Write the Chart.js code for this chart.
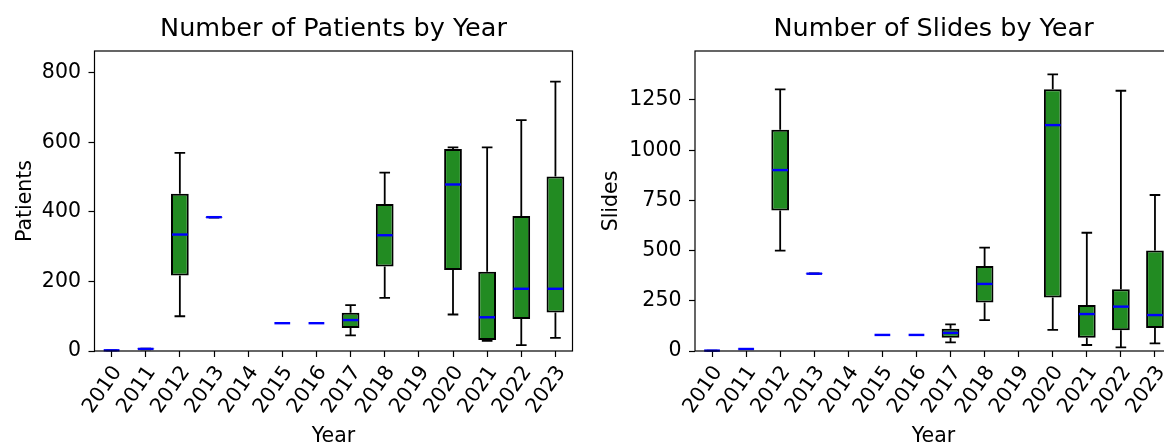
<!DOCTYPE html>
<html>
<head>
<meta charset="utf-8">
<title>Patients and Slides by Year</title>
<script src="https://cdn.jsdelivr.net/npm/chart.js@4.4.1/dist/chart.umd.min.js"></script>
<style>
  html, body { margin: 0; padding: 0; background: #fff; overflow: hidden; }
  #wrap { position: relative; width: 1164px; height: 446px; overflow: hidden; }
  #patientsChart { position: absolute; left: 0; top: 0; }
  #slidesChart { position: absolute; left: 582px; top: 0; }
</style>
</head>
<body>
<div id="wrap">
  <canvas id="patientsChart" width="582" height="446"></canvas>
  <canvas id="slidesChart" width="600" height="446"></canvas>
</div>
<script>
const years = ["2010", "2011", "2012", "2013", "2014", "2015", "2016",
               "2017", "2018", "2019", "2020", "2021", "2022", "2023"];

// five-number summaries per year (null = no data)
const patientsMin    = [2, 5, 100, 384, null, 80, 80, 45, 153, null, 105, 29, 17, 38];
const patientsQ1     = [2, 5, 217, 384, null, 80, 80, 66, 243, null, 233, 32, 92, 111];
const patientsMedian = [2, 6, 335, 385, null, 80, 80, 89, 333, null, 479, 97, 179, 179];
const patientsQ3     = [2, 7, 452, 386, null, 80, 80, 110, 423, null, 581, 228, 388, 502];
const patientsMax    = [2, 7, 570, 386, null, 80, 80, 132, 513, null, 586, 586, 664, 775];

const slidesMin    = [2, 9, 500, 384, null, 80, 80, 43, 154, null, 105, 30, 18, 38];
const slidesQ1     = [2, 9, 700, 384, null, 80, 80, 66, 242, null, 266, 66, 103, 115];
const slidesMedian = [2, 10, 901, 385, null, 80, 80, 90, 334, null, 1125, 184, 221, 179];
const slidesQ3     = [2, 11, 1102, 386, null, 80, 80, 111, 423, null, 1303, 229, 307, 501];
const slidesMax    = [2, 11, 1303, 386, null, 80, 80, 133, 515, null, 1378, 589, 1296, 777];

const patientsTicks = [0, 200, 400, 600, 800];
const slidesTicks = [0, 250, 500, 750, 1000, 1250];

Chart.defaults.font.family = "'DejaVu Sans', sans-serif";
Chart.defaults.color = "#000";

// whiskers, caps and medians drawn through the chart's own scales
const boxWhiskers = {
  id: "boxWhiskers",
  beforeDatasetsDraw(chart) {
    const ds = chart.data.datasets[0];
    const meta = chart.getDatasetMeta(0);
    const y = chart.scales.y;
    const ctx = chart.ctx;
    ctx.save();
    ctx.strokeStyle = "#000";
    ctx.lineWidth = 1.8;
    meta.data.forEach((bar, i) => {
      if (ds.whiskerMin[i] == null) return;
      const x = bar.x;
      const cap = bar.width * 0.6 / 2;
      const yMin = y.getPixelForValue(ds.whiskerMin[i]);
      const yQ1 = y.getPixelForValue(ds.data[i][0]);
      const yQ3 = y.getPixelForValue(ds.data[i][1]);
      const yMax = y.getPixelForValue(ds.whiskerMax[i]);
      ctx.beginPath();
      ctx.moveTo(x, yQ1); ctx.lineTo(x, yMin);
      ctx.moveTo(x, yQ3); ctx.lineTo(x, yMax);
      ctx.moveTo(x - cap, yMin); ctx.lineTo(x + cap, yMin);
      ctx.moveTo(x - cap, yMax); ctx.lineTo(x + cap, yMax);
      ctx.stroke();
    });
    ctx.restore();
  },
  afterDatasetsDraw(chart) {
    const ds = chart.data.datasets[0];
    const meta = chart.getDatasetMeta(0);
    const y = chart.scales.y;
    const ctx = chart.ctx;
    ctx.save();
    ctx.strokeStyle = "#0000ff";
    ctx.lineWidth = 2.4;
    meta.data.forEach((bar, i) => {
      if (ds.median[i] == null) return;
      const yMed = y.getPixelForValue(ds.median[i]);
      ctx.beginPath();
      ctx.moveTo(bar.x - bar.width / 2 + 1, yMed);
      ctx.lineTo(bar.x + bar.width / 2 - 1, yMed);
      ctx.stroke();
    });
    const a = chart.chartArea;
    ctx.strokeStyle = "#000";
    ctx.lineWidth = 1.2;
    ctx.strokeRect(a.left, a.top, a.right - a.left, a.bottom - a.top);
    ctx.restore();
  }
};

const makeBoxChart = (canvasId, cfg) => {
  const canvas = document.getElementById(canvasId);
  if (!canvas) return null;

  const boxes = years.map((_, i) =>
    cfg.q1[i] == null ? null : [cfg.q1[i], cfg.q3[i]]);

  return new Chart(canvas.getContext("2d"), {
    type: "bar",
    data: {
      labels: years,
      datasets: [{
        label: cfg.label,
        data: boxes,
        whiskerMin: cfg.min,
        whiskerMax: cfg.max,
        median: cfg.median,
        backgroundColor: "#228b22",
        borderColor: "#000",
        borderWidth: 2,
        borderSkipped: false,
        categoryPercentage: 1,
        barPercentage: 0.52,
      }],
    },
    options: {
      responsive: false,
      animation: false,
      devicePixelRatio: 1,
      layout: { padding: { left: 0, right: cfg.padRight, top: 0, bottom: 0 } },
      plugins: {
        legend: { display: false },
        tooltip: { enabled: false },
        title: {
          display: true,
          text: cfg.title,
          fullSize: false,
          color: "#000",
          font: { size: 25.5, weight: "normal", lineHeight: 1.2 },
          padding: { top: 13.8, bottom: 6.6 },
        },
      },
      scales: {
        x: {
          offset: true,
          grid: {
            display: true,
            offset: false,
            drawOnChartArea: false,
            drawTicks: true,
            tickLength: 6,
            tickWidth: 1.2,
            tickColor: "#000",
          },
          border: { display: false },
          ticks: {
            autoSkip: false,
            minRotation: 55,
            maxRotation: 55,
            padding: 4.5,
            labelOffset: 6,
            font: { size: 20.5 },
          },
          title: {
            display: true,
            text: "Year",
            font: { size: 20.5, lineHeight: 0.9 },
            padding: { top: 0, bottom: 0 },
          },
          afterFit: (scale) => { scale.height = 95; },
        },
        y: {
          min: 0,
          max: cfg.yMax,
          grid: {
            display: true,
            drawOnChartArea: false,
            drawTicks: true,
            tickLength: 6,
            tickWidth: 1.2,
            tickColor: "#000",
          },
          border: { display: false },
          afterBuildTicks: (scale) => {
            scale.ticks = cfg.ticks.map(v => ({ value: v }));
          },
          ticks: {
            padding: 7.5,
            font: { size: 20.5 },
            callback: (value) => String(value),
          },
          title: {
            display: true,
            text: cfg.yLabel,
            font: { size: 20.5, lineHeight: 1 },
            padding: { top: cfg.yTitlePad, bottom: 0 },
          },
          afterFit: (scale) => { scale.width = cfg.yWidth; },
        },
      },
    },
    plugins: [boxWhiskers],
  });
};

const initCharts = () => {
  makeBoxChart("patientsChart", {
    label: "Patients",
    title: "Number of Patients by Year",
    yLabel: "Patients",
    min: patientsMin, q1: patientsQ1, median: patientsMedian,
    q3: patientsQ3, max: patientsMax,
    ticks: patientsTicks,
    yMax: 863,
    yWidth: 94.5,
    yTitlePad: 15,
    padRight: 9.5,
  });

  makeBoxChart("slidesChart", {
    label: "Slides",
    title: "Number of Slides by Year",
    yLabel: "Slides",
    min: slidesMin, q1: slidesQ1, median: slidesMedian,
    q3: slidesQ3, max: slidesMax,
    ticks: slidesTicks,
    yMax: 1494,
    yWidth: 113,
    yTitlePad: 19.5,
    padRight: 10,
  });
};

document.addEventListener("DOMContentLoaded", initCharts);
</script>
</body>
</html>
